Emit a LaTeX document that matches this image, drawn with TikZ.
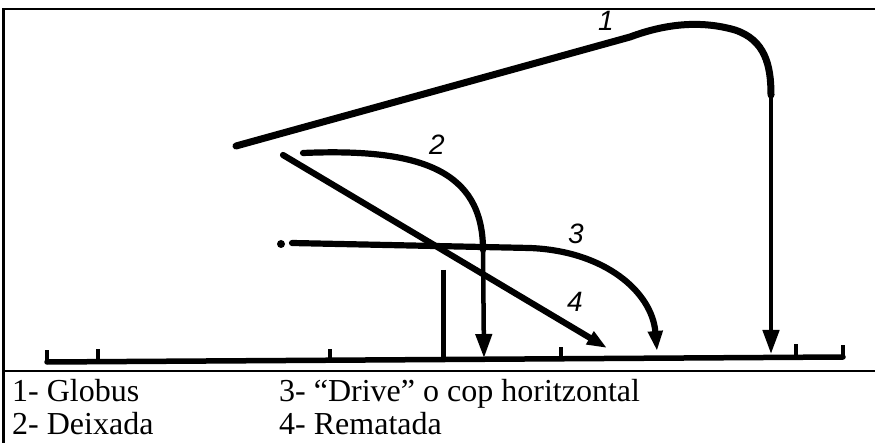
\documentclass[tikz,border=0pt]{standalone}
\usepackage{fontspec}
\setmainfont{Liberation Serif}
\newfontfamily\handfont{Liberation Sans}
\usetikzlibrary{arrows.meta}
\begin{document}
\begin{tikzpicture}[x=1pt,y=-1pt,
  frame/.style={line width=2.4pt},
  traj/.style={line width=6.2pt, line cap=round},
  fall/.style={line width=4.5pt, -{Triangle[length=24pt,width=16pt]}},
  headtip/.style={-{Triangle[length=20pt,width=14pt]}},
  ground/.style={line width=5.5pt, line cap=round},
  tickmark/.style={line width=4pt},
  digit/.style={font=\handfont\itshape\fontsize{28}{28}\selectfont, inner sep=0pt},
  caption/.style={font=\fontsize{32}{34}\selectfont, inner sep=0pt, anchor=base west}
]
\useasboundingbox (0,0) rectangle (875,443);
% frame
\draw[frame, line join=miter] (3.5,443) -- (3.5,9) -- (875,9);
\draw[frame] (3.5,371) -- (875,371);
% ground with ticks
\coordinate (gL) at (47,362);
\coordinate (gR) at (843,357);
\draw[ground] (gL) -- (gR);
\draw[tickmark] (47,362) -- (47,350);
\draw[tickmark] (98,361.7) -- (98,349);
\draw[tickmark] (330,360.2) -- (330,349);
\draw[tickmark] (561,358.8) -- (561,347);
\draw[tickmark] (796,357.3) -- (796,344);
\draw[tickmark] (843,357) -- (843,345);
% net post
\coordinate (postT) at (443,270);
\coordinate (postB) at (443,360);
\draw[line width=5pt] (postT) -- (postB);
% trajectory 1
\coordinate (a1) at (236,146);
\coordinate (a1m) at (771,95);
\coordinate (a1e) at (771,354);
\draw[traj, line width=7pt] (a1) -- (630,37) .. controls (665,24) and (700,20) .. (735,30) .. controls (765,40) and (771,65) .. (a1m);
\draw[fall] (a1m) -- (a1e);
% trajectory 2
\coordinate (a2) at (303,153);
\coordinate (a2m) at (483,250);
\coordinate (a2e) at (484,358);
\draw[traj] (a2) .. controls (420,148) and (483,170) .. (a2m);
\draw[fall] (a2m) -- (a2e);
% trajectory 3
\coordinate (a3) at (292,243);
\coordinate (a3e) at (657,351);
\fill (281,244) circle (4);
\draw[traj, headtip] (a3) -- (530,248) .. controls (605,251) and (652,292) .. (a3e);
% trajectory 4
\coordinate (a4) at (283,155);
\coordinate (a4e) at (607,348);
\draw[traj, headtip] (a4) -- (a4e);
% digit labels
\node[digit] (l1) at (606,21) {1};
\node[digit] (l2) at (437,145) {2};
\node[digit] (l3) at (576,234) {3};
\node[digit] (l4) at (575,302) {4};
% captions
\node[caption] (c1) at (12,401) {1- Globus};
\node[caption] (c2) at (12,434) {2- Deixada};
\node[caption] (c3) at (279,401) {3- “Drive” o cop horitzontal};
\node[caption] (c4) at (279,434) {4- Rematada};
\end{tikzpicture}
\end{document}
